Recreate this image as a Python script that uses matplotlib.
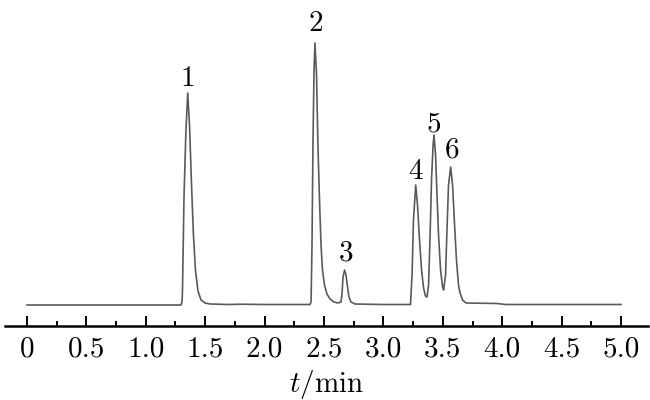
import matplotlib
matplotlib.use("Agg")
import matplotlib.pyplot as plt
import numpy as np

# Chromatogram trace: retention time (min) and signal (arbitrary units)
time_min = [0.0, 1.296, 1.305, 1.309, 1.322, 1.338, 1.353, 1.368, 1.385, 1.401, 1.418,
            1.439, 1.465, 1.498, 1.540, 1.70, 1.80, 2.0, 2.382, 2.391, 2.399, 2.407,
            2.416, 2.424, 2.437, 2.449, 2.462, 2.475, 2.487, 2.504, 2.525, 2.551,
            2.584, 2.618, 2.643, 2.652, 2.660, 2.673, 2.685, 2.698, 2.710, 2.727,
            2.761, 3.0, 3.228, 3.241, 3.253, 3.272, 3.287, 3.304, 3.321, 3.338,
            3.354, 3.367, 3.380, 3.393, 3.405, 3.418, 3.426, 3.439, 3.451, 3.464,
            3.481, 3.498, 3.507, 3.523, 3.535, 3.548, 3.566, 3.582, 3.599, 3.615,
            3.632, 3.645, 3.666, 3.695, 3.956, 4.03, 5.0]
signal = [0.0, 0.0, 3, 15, 110, 175, 212, 180, 120, 70, 35,
          14, 5, 2, 1, 0.5, 0.8, 0.5, 0.5, 3, 60, 160,
          235, 262, 230, 160, 105, 60, 35, 20, 11, 6,
          3, 2, 3, 12, 28, 35, 30, 18, 8, 3,
          1, 0.5, 0.5, 30, 85, 120, 100, 65, 35, 17,
          9, 8, 20, 70, 125, 160, 170, 150, 110, 70,
          35, 18, 15, 30, 75, 120, 138, 120, 80, 45,
          20, 12, 5, 2, 1.5, 0.5, 0.5]

peak_ids = ["1", "2", "3", "4", "5", "6"]
peak_label_t = [1.355, 2.433, 2.685, 3.266, 3.426, 3.575]
peak_label_h = [226, 281, 52, 133, 181, 155]

tick_major = [0, 0.5, 1.0, 1.5, 2.0, 2.5, 3.0, 3.5, 4.0, 4.5, 5.0]
tick_labels = ["0", "0.5", "1.0", "1.5", "2.0", "2.5", "3.0", "3.5", "4.0", "4.5", "5.0"]
tick_minor = [0.25, 0.75, 1.25, 1.75, 2.25, 2.75, 3.25, 3.75, 4.25, 4.75]

plt.rcParams['font.family'] = ['cmr10', 'DejaVu Serif']
plt.rcParams['mathtext.fontset'] = 'cm'
plt.rcParams['axes.unicode_minus'] = False

fig = plt.figure(figsize=(6.5, 4.0), dpi=100)
ax = fig.add_axes([5/650, 74/400, 643/650, 321/400])
ax.plot(time_min, signal, color="#5a5a5a", lw=1.2)

ax.set_xlim(-0.185, 5.227)
ax.set_ylim(-21, 300)

for s in ["top", "left", "right"]:
    ax.spines[s].set_visible(False)
ax.spines["bottom"].set_linewidth(1.8)
ax.set_yticks([])

ax.set_xticks(tick_major)
ax.set_xticklabels(tick_labels, fontsize=21)
ax.set_xticks(tick_minor, minor=True)
ax.tick_params(axis="x", which="major", direction="in", length=7.5, width=1.4, pad=7)
ax.tick_params(axis="x", which="minor", direction="in", length=3.8, width=1.4)

for lbl, t, h in zip(peak_ids, peak_label_t, peak_label_h):
    ax.text(t, h, lbl, fontsize=21, ha="center", va="center")

ax.set_xlabel(r"$t$/min", fontsize=21, labelpad=4)

fig.savefig("out.png", dpi=100)
